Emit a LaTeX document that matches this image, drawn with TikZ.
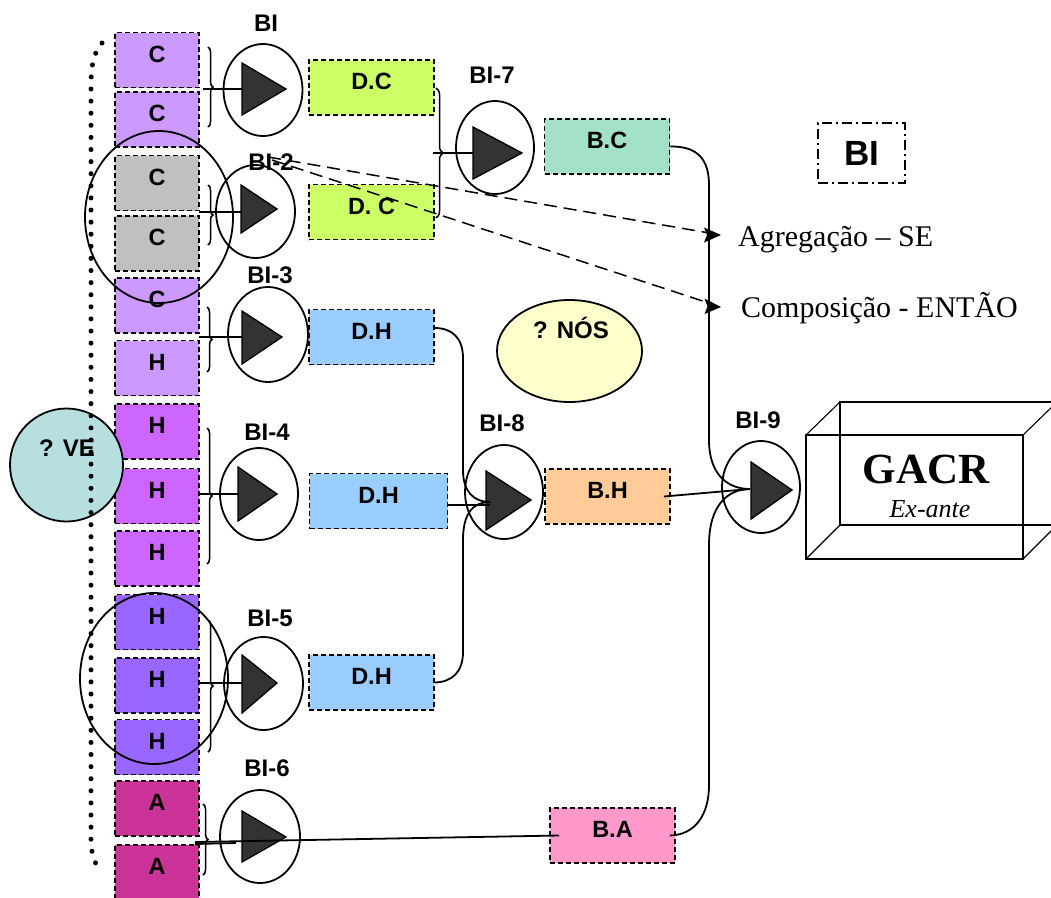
\documentclass[tikz,border=0pt]{standalone}
\usepackage{fontspec}
\setsansfont{Liberation Sans}
\setmainfont{Liberation Serif}
\usetikzlibrary{shapes.geometric,decorations.pathreplacing}
\definecolor{lav}{HTML}{CC99FF}
\definecolor{gry}{HTML}{C0C0C0}
\definecolor{mag}{HTML}{CC66FF}
\definecolor{pur}{HTML}{9966FF}
\definecolor{aac}{HTML}{CC3399}
\definecolor{dcc}{HTML}{CCFF66}
\definecolor{dhc}{HTML}{99CCFF}
\definecolor{bcc}{HTML}{A3E2C6}
\definecolor{bhc}{HTML}{FFCC99}
\definecolor{bac}{HTML}{FF99CC}
\definecolor{nosc}{HTML}{FFFFCC}
\definecolor{vec}{HTML}{B7DFE0}
\definecolor{trif}{HTML}{333333}
\begin{document}
\begin{tikzpicture}[x=1pt,y=-1pt,
  sf/.style={font=\sffamily\bfseries\fontsize{23.5}{27}\selectfont},
  dbox/.style={draw, line width=1.6pt, dash pattern=on 5pt off 3pt, inner sep=0pt, minimum height=55pt, text height=17pt, text depth=12.5pt, sf},
  lbox/.style={dbox, minimum width=84pt},
  mbox/.style={dbox, minimum width=125pt},
  amp/.style={draw, ellipse, line width=1.8pt, inner sep=0pt},
  tri/.style={fill=trif, draw=black, line width=1.3pt, line join=miter},
  lbl/.style={font=\sffamily\bfseries\fontsize{24}{28}\selectfont, inner sep=0pt},
  conn/.style={line width=1.8pt},
  brc/.style={decorate, decoration={brace,amplitude=5pt}, line width=1.5pt},
  big/.style={draw, ellipse, line width=1.8pt, inner sep=0pt},
  dashline/.style={line width=1.5pt, dash pattern=on 13pt off 7pt},
  headtip/.style={fill=black},
  serif text/.style={font=\rmfamily\fontsize{30}{34}\selectfont, inner sep=0pt, anchor=base west},
]
\useasboundingbox (0,0) rectangle (1051,897);

% left column boxes
\node[lbox, fill=lav] (l1) at (157,60) {C};
\node[lbox, fill=lav] (l2) at (157,119.5) {C};
\node[lbox, fill=gry] (l3) at (157,183) {C};
\node[lbox, fill=gry] (l4) at (157,243.5) {C};
\node[lbox, fill=lav] (l5) at (157,305.5) {C};
\node[lbox, fill=lav] (l6) at (157,368) {H};
\node[lbox, fill=mag] (l7) at (157,431.5) {H};
\node[lbox, fill=mag] (l8) at (157,496) {H};
\node[lbox, fill=mag] (l9) at (157,558.5) {H};
\node[lbox, fill=pur] (l10) at (157,622) {H};
\node[lbox, fill=pur] (l11) at (157,685.5) {H};
\node[lbox, fill=pur] (l12) at (157,747) {H};
\node[lbox, fill=aac] (l13) at (157,808.5) {A};
\node[lbox, fill=aac] (l14) at (157,872.5) {A};

% middle boxes
\node[mbox, fill=dcc] (dc1) at (371.5,87.5) {D.C};
\node[mbox, fill=dcc] (dc2) at (371.5,212) {D. C};
\node[mbox, fill=bcc] (bc) at (607,146.5) {B.C};
\node[mbox, fill=dhc] (dh1) at (371.5,337) {D.H};
\node[mbox, fill=dhc, minimum width=138pt] (dh2) at (378.5,501) {D.H};
\node[mbox, fill=dhc] (dh3) at (371.5,682.5) {D.H};
\node[mbox, fill=bhc] (bh) at (607.5,496.5) {B.H};
\node[mbox, fill=bac] (ba) at (612.5,835.5) {B.A};

% amplifier circles
\node[amp, minimum width=79pt, minimum height=92pt] (a1) at (263,90) {};
\node[amp, minimum width=79pt, minimum height=93pt] (a2) at (255.5,211.5) {};
\node[amp, minimum width=80pt, minimum height=95pt] (a3) at (268,334.5) {};
\node[amp, minimum width=78pt, minimum height=92pt] (a4) at (259,494) {};
\node[amp, minimum width=79pt, minimum height=93pt] (a5) at (263.5,683.5) {};
\node[amp, minimum width=80pt, minimum height=93pt] (a6) at (260,836.5) {};
\node[amp, minimum width=78pt, minimum height=93pt] (a7) at (495,147.5) {};
\node[amp, minimum width=78pt, minimum height=94pt] (a8) at (504,492) {};
\node[amp, minimum width=78pt, minimum height=92pt] (a9) at (761,487) {};

% triangles
\draw[tri] (242,63) -- (242,115) -- (286,89) -- cycle;
\draw[tri] (241,185) -- (241,233) -- (277,209) -- cycle;
\draw[tri] (242,311) -- (242,364) -- (282,337) -- cycle;
\draw[tri] (238,467) -- (238,521) -- (277,494) -- cycle;
\draw[tri] (242,655) -- (242,713) -- (277,683) -- cycle;
\draw[tri] (242,811) -- (242,862) -- (286,837) -- cycle;
\draw[tri] (473,127) -- (473,179) -- (522,153) -- cycle;
\draw[tri] (486,471) -- (486,530) -- (531,500) -- cycle;
\draw[tri] (751,462) -- (751,519) -- (792,490) -- cycle;

% labels
\node[lbl] (n1) at (266,23) {BI};
\node[lbl] (n2) at (271,162) {BI-2};
\node[lbl] (n3) at (270,275) {BI-3};
\node[lbl] (n4) at (267,432) {BI-4};
\node[lbl] (n5) at (270,618) {BI-5};
\node[lbl] (n6) at (267,768) {BI-6};
\node[lbl] (n7) at (492,75) {BI-7};
\node[lbl] (n8) at (502,423) {BI-8};
\node[lbl] (n9) at (758,420) {BI-9};

% braces
\draw[brc] (208,47) -- (208,127);
\draw[brc] (208,185) -- (208,245);
\draw[brc] (207,307) -- (207,372);
\draw[brc] (207,428) -- (207,564);
\draw[brc] (208,620) -- (208,752);
\draw[brc] (203,804) -- (203,875);
\draw[brc, decoration={brace,amplitude=7pt}] (436,88) -- (436,218);

% connector endpoints
\coordinate (b1) at (203,89);  \coordinate (i1) at (242,89);
\coordinate (b2) at (199,212); \coordinate (i2) at (241,212);
\coordinate (b3) at (199,337); \coordinate (i3) at (242,337);
\coordinate (b4) at (199,494); \coordinate (i4) at (238,494);
\coordinate (b5) at (199,683); \coordinate (i5) at (242,683);
\coordinate (b6) at (195,844); \coordinate (i6) at (236,843);
\coordinate (b7) at (433,153); \coordinate (i7) at (473,153);
\coordinate (i8) at (490,502); \coordinate (i8b) at (490,505);
\coordinate (i9) at (750,489);

\draw[conn] (b1) -- (i1);
\draw[conn] (b2) -- (i2);
\draw[conn] (b3) -- (i3);
\draw[conn] (b4) -- (i4);
\draw[conn] (b5) -- (i5);
\draw[conn] (b6) -- (i6);
\draw[conn] ([yshift=2pt]b6) -- ([xshift=10pt]ba.west);
\draw[conn] (b7) -- (i7);

% to BI-8
\draw[conn] ([yshift=9pt]dh1.east) .. controls (452,328) and (463,338) .. (463,358) -- (463,470) .. controls (463,492) and (474,502) .. (i8);
\draw[conn] ([yshift=-4pt]dh2.east) -- (i8b);
\draw[conn] (dh3.east) .. controls (452,682) and (463,672) .. (463,652) -- (463,540) .. controls (463,512) and (474,502) .. (i8);

% to BI-9
\draw[conn] (bc.east) .. controls (698,146) and (709,160) .. (709,185) -- (709,440) .. controls (709,475) and (728,489) .. (i9);
\draw[conn] ([xshift=-7pt]bh.east) -- (i9);
\draw[conn] ([xshift=-6pt]ba.east) .. controls (695,835) and (709,815) .. (709,785) -- (709,545) .. controls (709,505) and (728,489) .. (i9);

% ? NOS
\node[draw, ellipse, fill=nosc, line width=1.8pt, minimum width=145pt, minimum height=102pt, inner sep=0pt] (nos) at (569.5,351) {};
\node[lbl] (nost) at (571,328) {? NÓS};

% big ellipses over boxes
\node[big, minimum width=148pt, minimum height=172pt] (g1) at (159,217) {};
\node[big, minimum width=148pt, minimum height=171pt] (g2) at (154,678.5) {};

% ? VE
\node[draw, circle, fill=vec, line width=1.8pt, minimum size=113pt, inner sep=0pt] (ve) at (66.5,465) {};
\node[lbl] (vet) at (67,448) {? VE};

% dotted bracket
\draw[line width=5pt, line cap=round, dash pattern=on 0pt off 12.1pt] (102,43) .. controls (94,52) and (91,65) .. (91,85) -- (91,840) .. controls (91,852) and (94,860) .. (97,866);

% legend
\node[draw, line width=1.5pt, dash pattern=on 10pt off 4pt on 2pt off 4pt, minimum width=87pt, minimum height=60pt, inner sep=0pt, font=\sffamily\bfseries\fontsize{35}{40}\selectfont] (leg) at (861.5,153) {BI};
\node[serif text] (ag) at (738,246) {Agregação – SE};
\node[serif text] (co) at (741,317) {Composição - ENTÃO};

% dashed arrows
\coordinate (s1) at (268,157); \coordinate (s2) at (272,160);
\coordinate (e1) at (721,235); \coordinate (e2) at (721,307);
\draw[dashline, shorten >=14pt] (s1) -- (e1);
\draw[dashline, shorten >=14pt] (s2) -- (e2);
\fill[headtip] (e1) -- ++(-17,-7.5) -- ++(3,7.5) -- ++(-3,7.5) -- cycle;
\fill[headtip] (e2) -- ++(-16.5,-8.5) -- ++(3,8) -- ++(-3,7.5) -- cycle;

% GACR cuboid
\coordinate (f1) at (806,435); \coordinate (f2) at (1023,435);
\coordinate (f3) at (1023,559); \coordinate (f4) at (806,559);
\coordinate (k1) at (840,402); \coordinate (k2) at (1057,402);
\coordinate (k3) at (1057,525); \coordinate (k4) at (840,525);
\draw[line width=1.1pt] (f1) -- (f2) -- (f3) -- (f4) -- cycle;
\draw[line width=1.1pt] (k1) -- (k2) -- (k3) -- (k4) -- cycle;
\draw[line width=1.1pt] (f1) -- (k1) (f2) -- (k2) (f3) -- (k3) (f4) -- (k4);
\node[font=\rmfamily\bfseries\fontsize{43}{47}\selectfont, inner sep=0pt, anchor=base] (gacr) at (926,483) {GACR};
\node[font=\rmfamily\itshape\fontsize{26}{30}\selectfont, inner sep=0pt, anchor=base] (exa) at (930,517) {Ex-ante};
\end{tikzpicture}
\end{document}
